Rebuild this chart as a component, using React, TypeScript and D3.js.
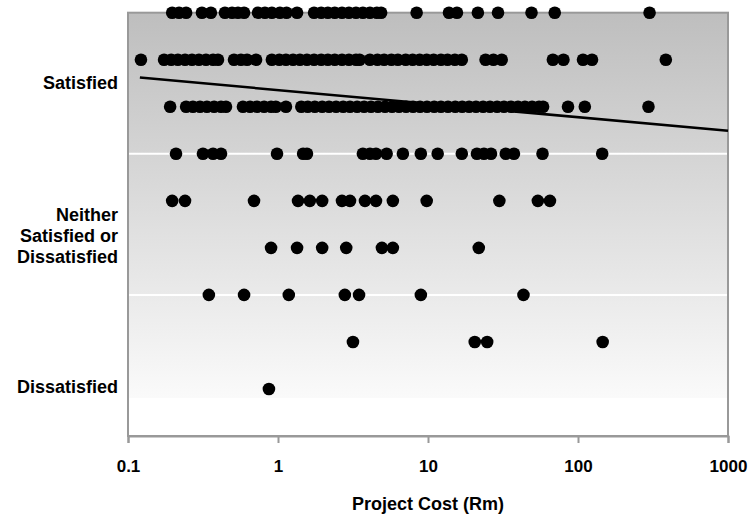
import { useEffect, useRef } from "react";
import * as d3 from "d3";

// project cost (Rm) per response, one array per satisfaction score (9 = top row)
const score9 = [0.197, 0.219, 0.244, 0.311, 0.357, 0.443, 0.494, 0.541, 0.594, 0.736, 0.818, 0.91, 1.03, 1.14, 1.34,
  1.74, 1.94, 2.15, 2.39, 2.67, 2.97, 3.31, 3.68, 4.1, 4.56, 4.87, 8.4, 13.8, 15.6, 21.5, 29.3, 49, 70, 300];
const score8 = [0.122, 0.174, 0.194, 0.215, 0.24, 0.267, 0.297, 0.331, 0.369, 0.398, 0.509, 0.566, 0.622, 0.714,
  0.91, 1.02, 1.13, 1.26, 1.4, 1.56, 1.74, 1.94, 2.15, 2.39, 2.67, 2.97, 3.31, 3.5, 4.1, 4.6, 5.1, 5.7, 6.3, 7.1,
  7.9, 8.8, 9.8, 10.9, 12.2, 13.5, 15.1, 16.8, 24.2, 27.3, 31, 68, 80, 108, 124, 385];
const score7 = [0.191, 0.244, 0.271, 0.302, 0.336, 0.375, 0.417, 0.45, 0.584, 0.651, 0.725, 0.808, 0.899, 0.967,
  1.13, 1.43, 1.58, 1.76, 1.97, 2.19, 2.44, 2.72, 3.02, 3.37, 3.75, 4.17, 4.64, 5.17, 5.76, 6.41, 7.14, 7.95, 8.85,
  9.85, 11, 12.2, 13.6, 15.2, 16.9, 18.8, 20.9, 23.3, 25.9, 28.9, 32.1, 35.8, 39.8, 44.3, 49.4, 55, 58.5, 85.8,
  111, 295];
const score6 = [0.209, 0.316, 0.369, 0.417, 0.985, 1.47, 1.56, 3.68, 4.1, 4.5, 5.3, 6.8, 8.96, 11.6, 16.8, 21.2,
  23.6, 26.3, 33, 37.4, 58, 145];
const score5 = [0.197, 0.24, 0.692, 1.36, 1.63, 1.97, 2.67, 3.02, 3.8, 4.5, 5.83, 9.8, 29.9, 54, 65];
const score4 = [0.899, 1.34, 1.97, 2.85, 4.93, 5.83, 21.8];
const score3 = [0.346, 0.594, 1.18, 2.79, 3.47, 8.96, 43.3];
const score2 = [3.16, 20.5, 24.8, 146];
const score1 = [0.87];

const scoreRows: [number, number[]][] = [
  [9, score9], [8, score8], [7, score7], [6, score6], [5, score5],
  [4, score4], [3, score3], [2, score2], [1, score1],
];

// logarithmic trend line
const trendCost = [0.12, 1000];
const trendScore = [7.62, 6.49];

const xTicks = [0.1, 1, 10, 100, 1000];
const bandLines = [6, 3];
const categoryNames = [["Satisfied"], ["Neither", "Satisfied or", "Dissatisfied"], ["Dissatisfied"]];
const categoryAt = [7.5, 4.25, 1.05];

const W = 749, H = 516;
const margin = { top: 12.7, right: 21, bottom: 80, left: 128 };
const FONT = "'Liberation Sans', Arial, sans-serif";

function App() {
  const ref = useRef<SVGSVGElement>(null);

  useEffect(() => {
    const svg = d3.select(ref.current);
    svg.selectAll("*").remove();
    const width = W - margin.left - margin.right;
    const height = H - margin.top - margin.bottom;

    const x = d3.scaleLog().domain([0.1, 1000]).range([0, width]);
    const y = d3.scaleLinear().domain([0, 9]).range([height, 0]);

    const defs = svg.append("defs");
    const grad = defs.append("linearGradient")
      .attr("id", "plotbg").attr("x1", 0).attr("y1", 0).attr("x2", 0).attr("y2", 1);
    grad.append("stop").attr("offset", 0).attr("stop-color", "#bebebe");
    grad.append("stop").attr("offset", 0.91).attr("stop-color", "#fafafa");
    grad.append("stop").attr("offset", 0.911).attr("stop-color", "#ffffff");
    grad.append("stop").attr("offset", 1).attr("stop-color", "#ffffff");

    const g = svg.append("g").attr("transform", `translate(${margin.left},${margin.top})`);

    g.append("rect").attr("width", width).attr("height", height).attr("fill", "url(#plotbg)");

    g.selectAll(".band").data(bandLines).enter().append("line")
      .attr("x1", 0).attr("x2", width)
      .attr("y1", d => y(d)).attr("y2", d => y(d))
      .attr("stroke", "#fff").attr("stroke-width", 2);

    g.append("rect").attr("width", width).attr("height", height)
      .attr("fill", "none").attr("stroke", "#999").attr("stroke-width", 2);

    // x axis
    const ax = g.append("g")
      .attr("transform", `translate(0,${height})`)
      .call(d3.axisBottom(x).tickValues(xTicks).tickSize(7).tickPadding(17)
        .tickFormat(d => String(d)));
    ax.select(".domain").attr("stroke", "#999").attr("stroke-width", 2);
    ax.selectAll(".tick line").attr("stroke", "#999").attr("stroke-width", 2);
    ax.selectAll(".tick text")
      .attr("fill", "#000")
      .style("font-family", FONT)
      .style("font-size", "17px").style("font-weight", "bold");

    g.append("text")
      .attr("x", width / 2).attr("y", height + 74)
      .attr("text-anchor", "middle")
      .style("font-family", FONT)
      .style("font-size", "18px").style("font-weight", "bold")
      .text("Project Cost (Rm)");

    // category labels
    categoryNames.forEach((lines, i) => {
      const t = g.append("text")
        .attr("text-anchor", "end")
        .style("font-family", FONT)
        .style("font-size", "18px").style("font-weight", "bold");
      const lh = 21;
      const y0 = y(categoryAt[i]) - ((lines.length - 1) * lh) / 2 + 6;
      lines.forEach((s, j) => {
        t.append("tspan").attr("x", -10).attr("y", y0 + j * lh).text(s);
      });
    });

    // trend line
    const trend = trendCost.map((c, i) => [c, trendScore[i]] as [number, number]);
    g.append("path")
      .datum(trend)
      .attr("fill", "none").attr("stroke", "#000").attr("stroke-width", 2.5)
      .attr("d", d3.line<[number, number]>().x(d => x(d[0])).y(d => y(d[1])));

    // dots
    const points = scoreRows.flatMap(([s, costs]) => costs.map(c => ({ s, c })));
    g.selectAll(".dot").data(points).enter().append("circle")
      .attr("cx", d => x(d.c)).attr("cy", d => y(d.s))
      .attr("r", 6.3).attr("fill", "#000");
  }, []);

  return (
    <svg ref={ref} width={W} height={H}
      style={{ position: "absolute", left: 0, top: 0, background: "#fff" }} />
  );
}

export default App;
